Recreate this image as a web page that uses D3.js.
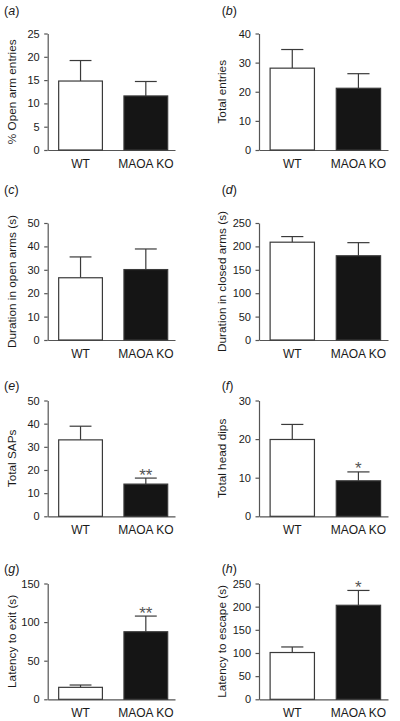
<!DOCTYPE html>
<html><head><meta charset="utf-8">
<script src="https://cdn.jsdelivr.net/npm/d3@7"></script>
<style>body{margin:0;background:#fff}</style></head><body>
<svg id="c" width="400" height="721"></svg>
<script>
const categories = ["WT", "MAOA KO"];
const panelLetters = ["a","b","c","d","e","f","g","h"];
const yLabels = ["% Open arm entries","Total entries","Duration in open arms (s)","Duration in closed arms (s)","Total SAPs","Total head dips","Latency to exit (s)","Latency to escape (s)"];
const yTicks = [
  [0,5,10,15,20,25],
  [0,10,20,30,40],
  [0,10,20,30,40,50],
  [0,50,100,150,200,250],
  [0,10,20,30,40,50],
  [0,10,20,30],
  [0,50,100,150],
  [0,50,100,150,200,250]
];
const wtMean  = [14.8, 28.1, 26.6, 209, 33.0, 19.9, 15.5, 101];
const wtUpper = [19.2, 34.5, 35.5, 221, 38.9, 23.8, 18.5, 113];
const koMean  = [11.6, 21.2, 30.1, 180, 13.9, 9.2, 87.5, 203];
const koUpper = [14.7, 26.2, 38.9, 208, 16.5, 11.5, 107.8, 235];
const koSignif = ["", "", "", "", "**", "*", "**", "*"];

const svg = d3.select("#c");
const font = "'Liberation Sans', Arial, Helvetica, sans-serif";
const textCol = "#1a1a1a";
const axisCol = "#555";
const barStroke = "#3a3a3a";

const cols = [
  {axis:47.7, end:175, lab:4, yLab:12},
  {axis:259, end:388, lab:221.7, yLab:222}
];
const rows = [
  {top:33.5, bottom:150, lab:14.5},
  {top:223, bottom:340, lab:194},
  {top:400.5, bottom:516.3, lab:390},
  {top:583.5, bottom:699.3, lab:572.5}
];

panelLetters.forEach((p, i) => {
  const col = cols[i % 2], row = rows[Math.floor(i / 2)];
  const ticks = yTicks[i];
  const y = d3.scaleLinear().domain([0, ticks[ticks.length - 1]]).range([row.bottom, row.top]);
  const x = d3.scaleBand().domain(categories).range([col.axis, col.end])
    .paddingInner(0.33).paddingOuter(0.14).align(0.6);
  const g = svg.append("g");

  // panel label
  const t = g.append("text").attr("x", col.lab).attr("y", row.lab)
    .attr("font-family", font).attr("font-size", 12.5).attr("fill", textCol);
  t.append("tspan").text("(");
  t.append("tspan").attr("font-style", "italic").text(p);
  t.append("tspan").text(")");

  // y axis
  const ya = g.append("g").attr("transform", `translate(${col.axis},0)`)
    .call(d3.axisLeft(y).tickValues(ticks).tickSize(3.5).tickSizeOuter(0).tickPadding(4.5).tickFormat(d3.format("d")));
  ya.select(".domain").attr("stroke", axisCol).attr("stroke-width", 1.2);
  ya.selectAll(".tick line").attr("stroke", axisCol).attr("stroke-width", 1.2);
  ya.selectAll(".tick text").attr("font-family", font).attr("font-size", 11).attr("fill", textCol);

  // x axis
  const xa = g.append("g").attr("transform", `translate(0,${row.bottom})`)
    .call(d3.axisBottom(x).tickSize(0).tickSizeOuter(0).tickPadding(9.3));
  xa.select(".domain").attr("stroke", axisCol).attr("stroke-width", 1.2);
  xa.selectAll(".tick text").attr("font-family", font).attr("font-size", 12).attr("fill", textCol);

  // y label
  g.append("text")
    .attr("transform", `translate(${col.yLab},${(row.top + row.bottom) / 2}) rotate(-90)`)
    .attr("text-anchor", "middle").attr("dy", "0.35em")
    .attr("font-family", font).attr("font-size", 11.8).attr("fill", textCol)
    .text(yLabels[i]);

  const data = [
    {c: categories[0], m: wtMean[i], u: wtUpper[i], fill: "#fff", s: ""},
    {c: categories[1], m: koMean[i], u: koUpper[i], fill: "#151515", s: koSignif[i]}
  ];
  const bw = x.bandwidth();
  data.forEach(d => {
    const cx = x(d.c) + bw / 2;
    g.append("line").attr("x1", cx).attr("x2", cx).attr("y1", y(d.m)).attr("y2", y(d.u))
      .attr("stroke", barStroke).attr("stroke-width", 1.2);
    g.append("line").attr("x1", cx - bw / 4).attr("x2", cx + bw / 4).attr("y1", y(d.u)).attr("y2", y(d.u))
      .attr("stroke", barStroke).attr("stroke-width", 1.2);
    g.append("rect").attr("x", x(d.c)).attr("width", bw)
      .attr("y", y(d.m)).attr("height", y(0) - y(d.m))
      .attr("fill", d.fill).attr("stroke", barStroke).attr("stroke-width", 1.2);
    if (d.s) {
      g.append("text").attr("x", cx).attr("y", y(d.u) + 2.5).attr("text-anchor", "middle")
        .attr("font-family", font).attr("font-size", 17).attr("fill", "#555").text(d.s);
    }
  });
});
</script>
</body></html>
